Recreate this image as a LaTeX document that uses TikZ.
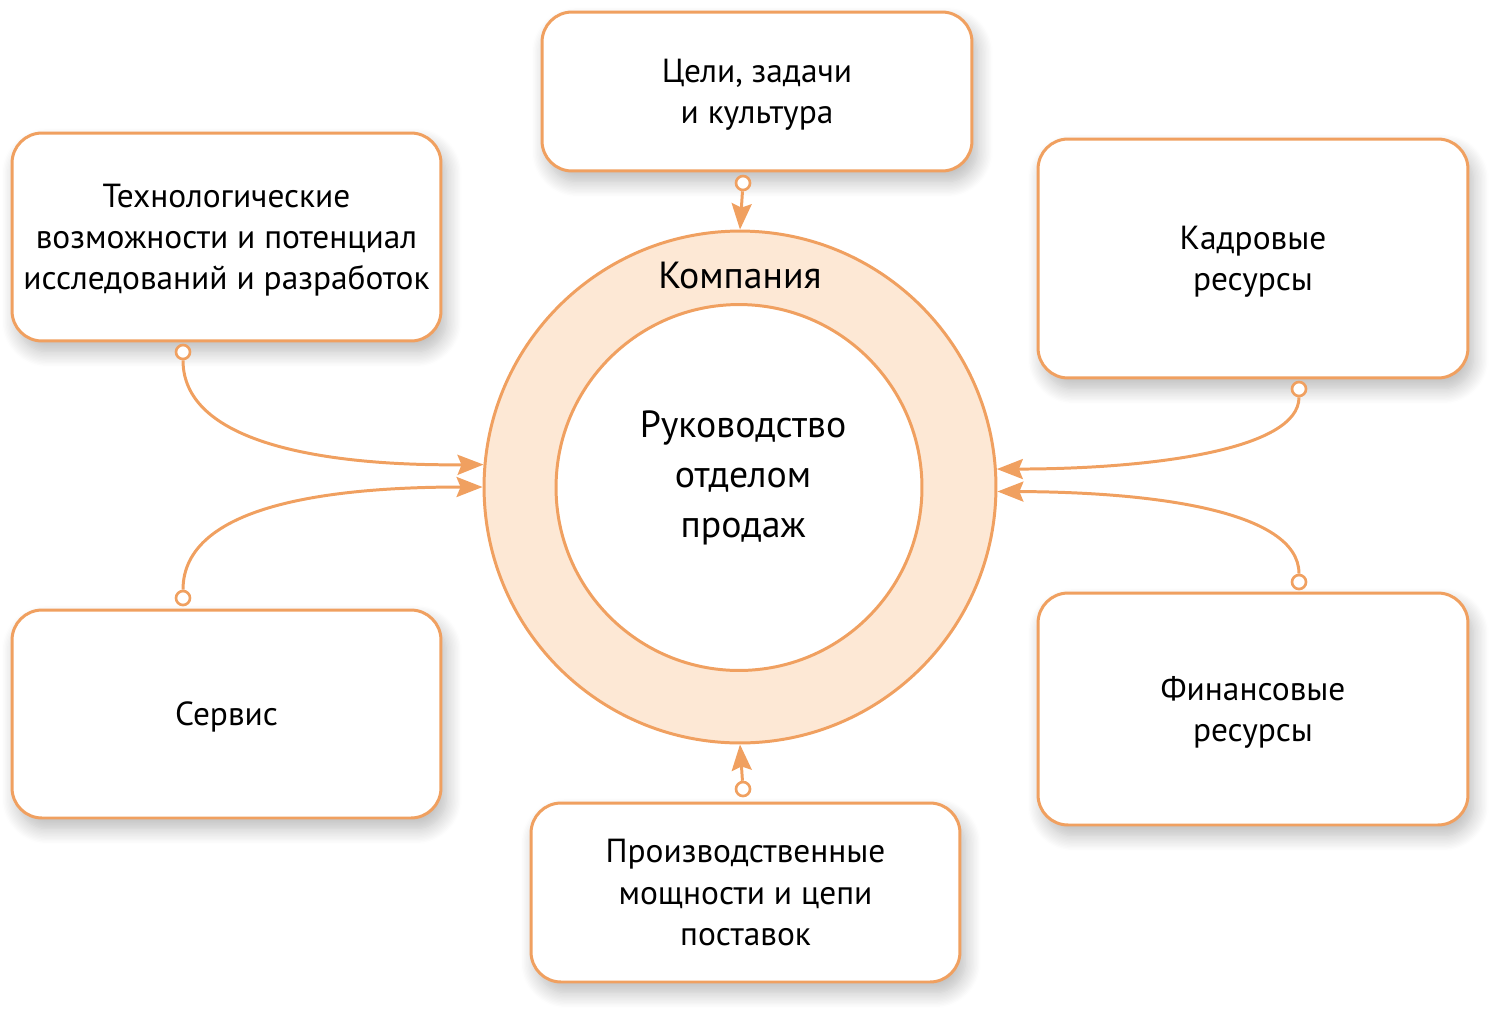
\documentclass[tikz,border=0pt]{standalone}
\usepackage{fontspec}
\setmainfont{PT Sans}
\usetikzlibrary{arrows.meta, shadows.blur}
\definecolor{peach}{RGB}{240,160,96}
\definecolor{cream}{RGB}{253,232,213}

\begin{document}
\begin{tikzpicture} [x=0.02cm, y=-0.02cm,
  box/.style={draw=peach, line width=1.7pt, rounded corners=0.6cm, fill=white, align=center, font=\fontsize{19}{23.5}\selectfont, text depth=-4.5pt, blur shadow={shadow xshift=3pt, shadow yshift=-6pt, shadow blur radius=9pt, shadow blur steps=12, shadow opacity=28}},
  dot/.style={circle, draw=peach, line width=1.5pt, fill=white, inner sep=0pt, minimum size=0.28cm},
  link/.style={draw=peach, line width=1.7pt, -{Stealth[length=0.52cm, width=0.4cm, inset=0.08cm]}}]
\useasboundingbox (0,0) rectangle (1500,1015);
\node[box, minimum width=8.6cm, minimum height=3.18cm] (goals) at (757,91.5) {Цели, задачи\\и культура};
\node[box, minimum width=8.58cm, minimum height=4.16cm] (tech) at (226.5,237) {Технологические\\возможности и потенциал\\исследований и разработок};
\node[box, minimum width=8.6cm, minimum height=4.78cm] (staff) at (1253,258.5) {Кадровые\\ресурсы};
\node[box, minimum width=8.58cm, minimum height=4.16cm] (service) at (226.5,714) {Сервис};
\node[box, minimum width=8.6cm, minimum height=4.64cm] (finance) at (1253,709) {Финансовые\\ресурсы};
\node[box, minimum width=8.58cm, minimum height=3.58cm] (plant) at (745.5,892.5) {Производственные\\мощности и цепи\\поставок};
\node[circle, draw=peach, line width=1.7pt, fill=cream, minimum size=10.24cm] (firm) at (740,487) {};
\node[circle, draw=peach, line width=1.7pt, fill=white, minimum size=7.32cm] (head) at (739,487.5) {};
\node[align=center, font=\fontsize{21.5}{28.45}\selectfont] (headtext) at (743,478) {Руководство\\отделом\\продаж};
\node[font=\fontsize{21.5}{26}\selectfont] (firmlabel) at (740,275) {Компания};
\node[dot] (d-1) at (743,183) {};
\node[dot] (d-2) at (183,352) {};
\node[dot] (d-3) at (183,598) {};
\node[dot] (d-4) at (1299,389) {};
\node[dot] (d-5) at (1299,582) {};
\node[dot] (d-6) at (743,789) {};
\draw [link] (d-1) -- (firm.north);
\draw [link] (d-6) -- (firm.south);
\draw [link] (d-2) .. controls (183,445) and (330,466) .. (firm.175);
\draw [link] (d-3) .. controls (183,505) and (330,487) .. (firm.west);
\draw [link] (d-4) .. controls (1299,450) and (1150,469) .. (firm.4);
\draw [link] (d-5) .. controls (1299,510) and (1150,492) .. (firm.-1);
\end{tikzpicture}
\end{document}
